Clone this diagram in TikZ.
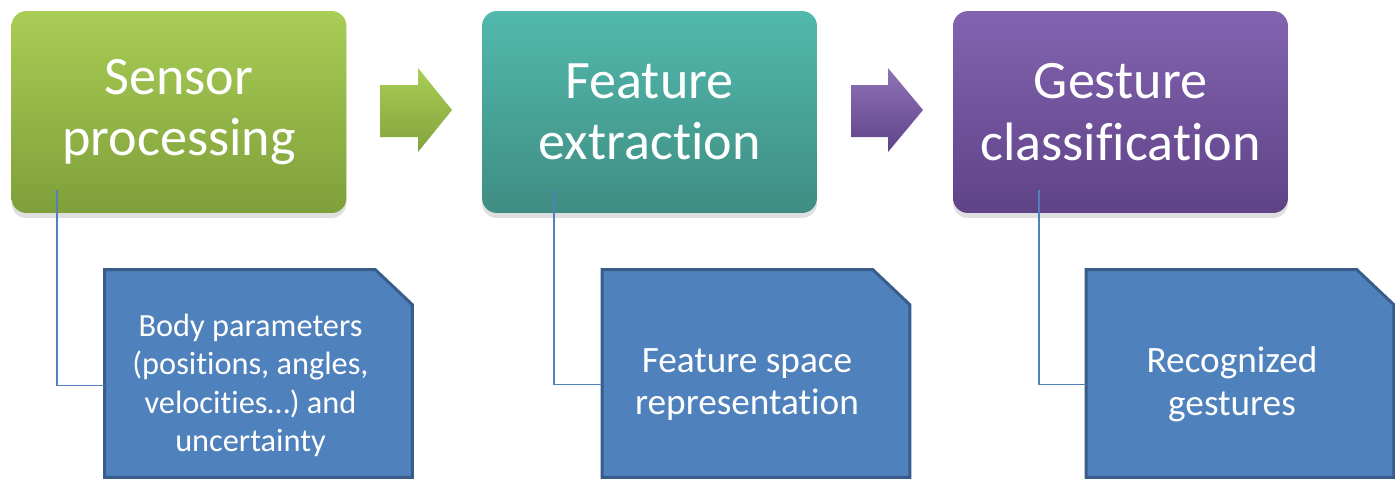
\documentclass[tikz,border=0pt]{standalone}
\usepackage{fontspec}
\setmainfont[Ligatures=NoCommon]{Carlito}
\usetikzlibrary{positioning, calc, shadows, backgrounds}
\definecolor{greentop}{HTML}{A9CD55}
\definecolor{greenbot}{HTML}{7E9F3A}
\definecolor{tealtop}{HTML}{52B9AC}
\definecolor{tealbot}{HTML}{3F8D83}
\definecolor{purptop}{HTML}{8363B0}
\definecolor{purpbot}{HTML}{5F4387}
\definecolor{outfill}{HTML}{4F81BD}
\definecolor{outline}{HTML}{385D8A}

\begin{document}
\begin{tikzpicture}[x=0.02cm, y=-0.02cm,
    every node/.style={text=white, align=center},
    stage/.style={rounded corners=0.3cm, minimum width=6.7cm, minimum height=4.04cm,
      font=\fontsize{30.8}{35}\selectfont,
      drop shadow={opacity=0.25, shadow xshift=0pt, shadow yshift=-0.1cm}},
    outbox/.style={minimum width=6.14cm, minimum height=4.14cm, inner sep=0pt},
    outtext/.style={font=\fontsize{18.4}{21.8}\selectfont},
    outtextlarge/.style={font=\fontsize{21.2}{24.2}\selectfont},
    chamfer/.style={fill=outfill, draw=outline, line width=1.7pt},
    link/.style={draw=outfill, line width=0.7pt}]
  \useasboundingbox (0,0) rectangle (1395,481);

  % processing stages
  \node[stage, top color=greentop, bottom color=greenbot] (sensor) at (179,112)
    {Sensor\\processing};
  \node[stage, top color=tealtop, bottom color=tealbot] (feature) at (649.5,112)
    {Feature\\extraction};
  \node[stage, top color=purptop, bottom color=purpbot] (gesture) at (1120.5,112)
    {Gesture\\classification};

  % block arrows
  \shade[top color=greentop, bottom color=greenbot!90!greentop]
    (380,85) -- (418,85) -- (418,68) -- (452,110) -- (418,152) -- (418,137) -- (380,137) -- cycle;
  \shade[top color=purptop!90!white, bottom color=purpbot]
    (851,85) -- (888,85) -- (888,68) -- (923,110) -- (888,152) -- (888,137) -- (851,137) -- cycle;

  % outputs
  \node[outbox] (body) at (258.5,373.5) {};
  \node[outbox] (space) at (756,373.5) {};
  \node[outbox] (recog) at (1240,373.5) {};
  \begin{scope}[on background layer]
    \foreach \b in {body, space, recog}
      \draw[chamfer] (\b.north west) -- ($(\b.north east)+(-37,0)$)
        -- ($(\b.north east)+(0,35)$) -- (\b.south east) -- (\b.south west) -- cycle;
  \end{scope}
  \node[outtext] (bodytext) at ($(body.center)+(-8,12)$)
    {Body parameters\\(positions, angles,\\velocities…) and\\uncertainty};
  \node[outtextlarge] (spacetext) at ($(space.center)+(-9,11)$)
    {Feature space\\representation};
  \node[outtextlarge] (recogtext) at ($(recog.center)+(-8,11)$)
    {Recognized\\gestures};

  % links
  \coordinate (l1) at (57,190);
  \coordinate (l2) at (554,190);
  \coordinate (l3) at (1039,190);
  \draw[link] (l1) |- (body.west |- bodytext.center);
  \draw[link] (l2) |- (space.west |- spacetext.center);
  \draw[link] (l3) |- (recog.west |- recogtext.center);
\end{tikzpicture}
\end{document}
